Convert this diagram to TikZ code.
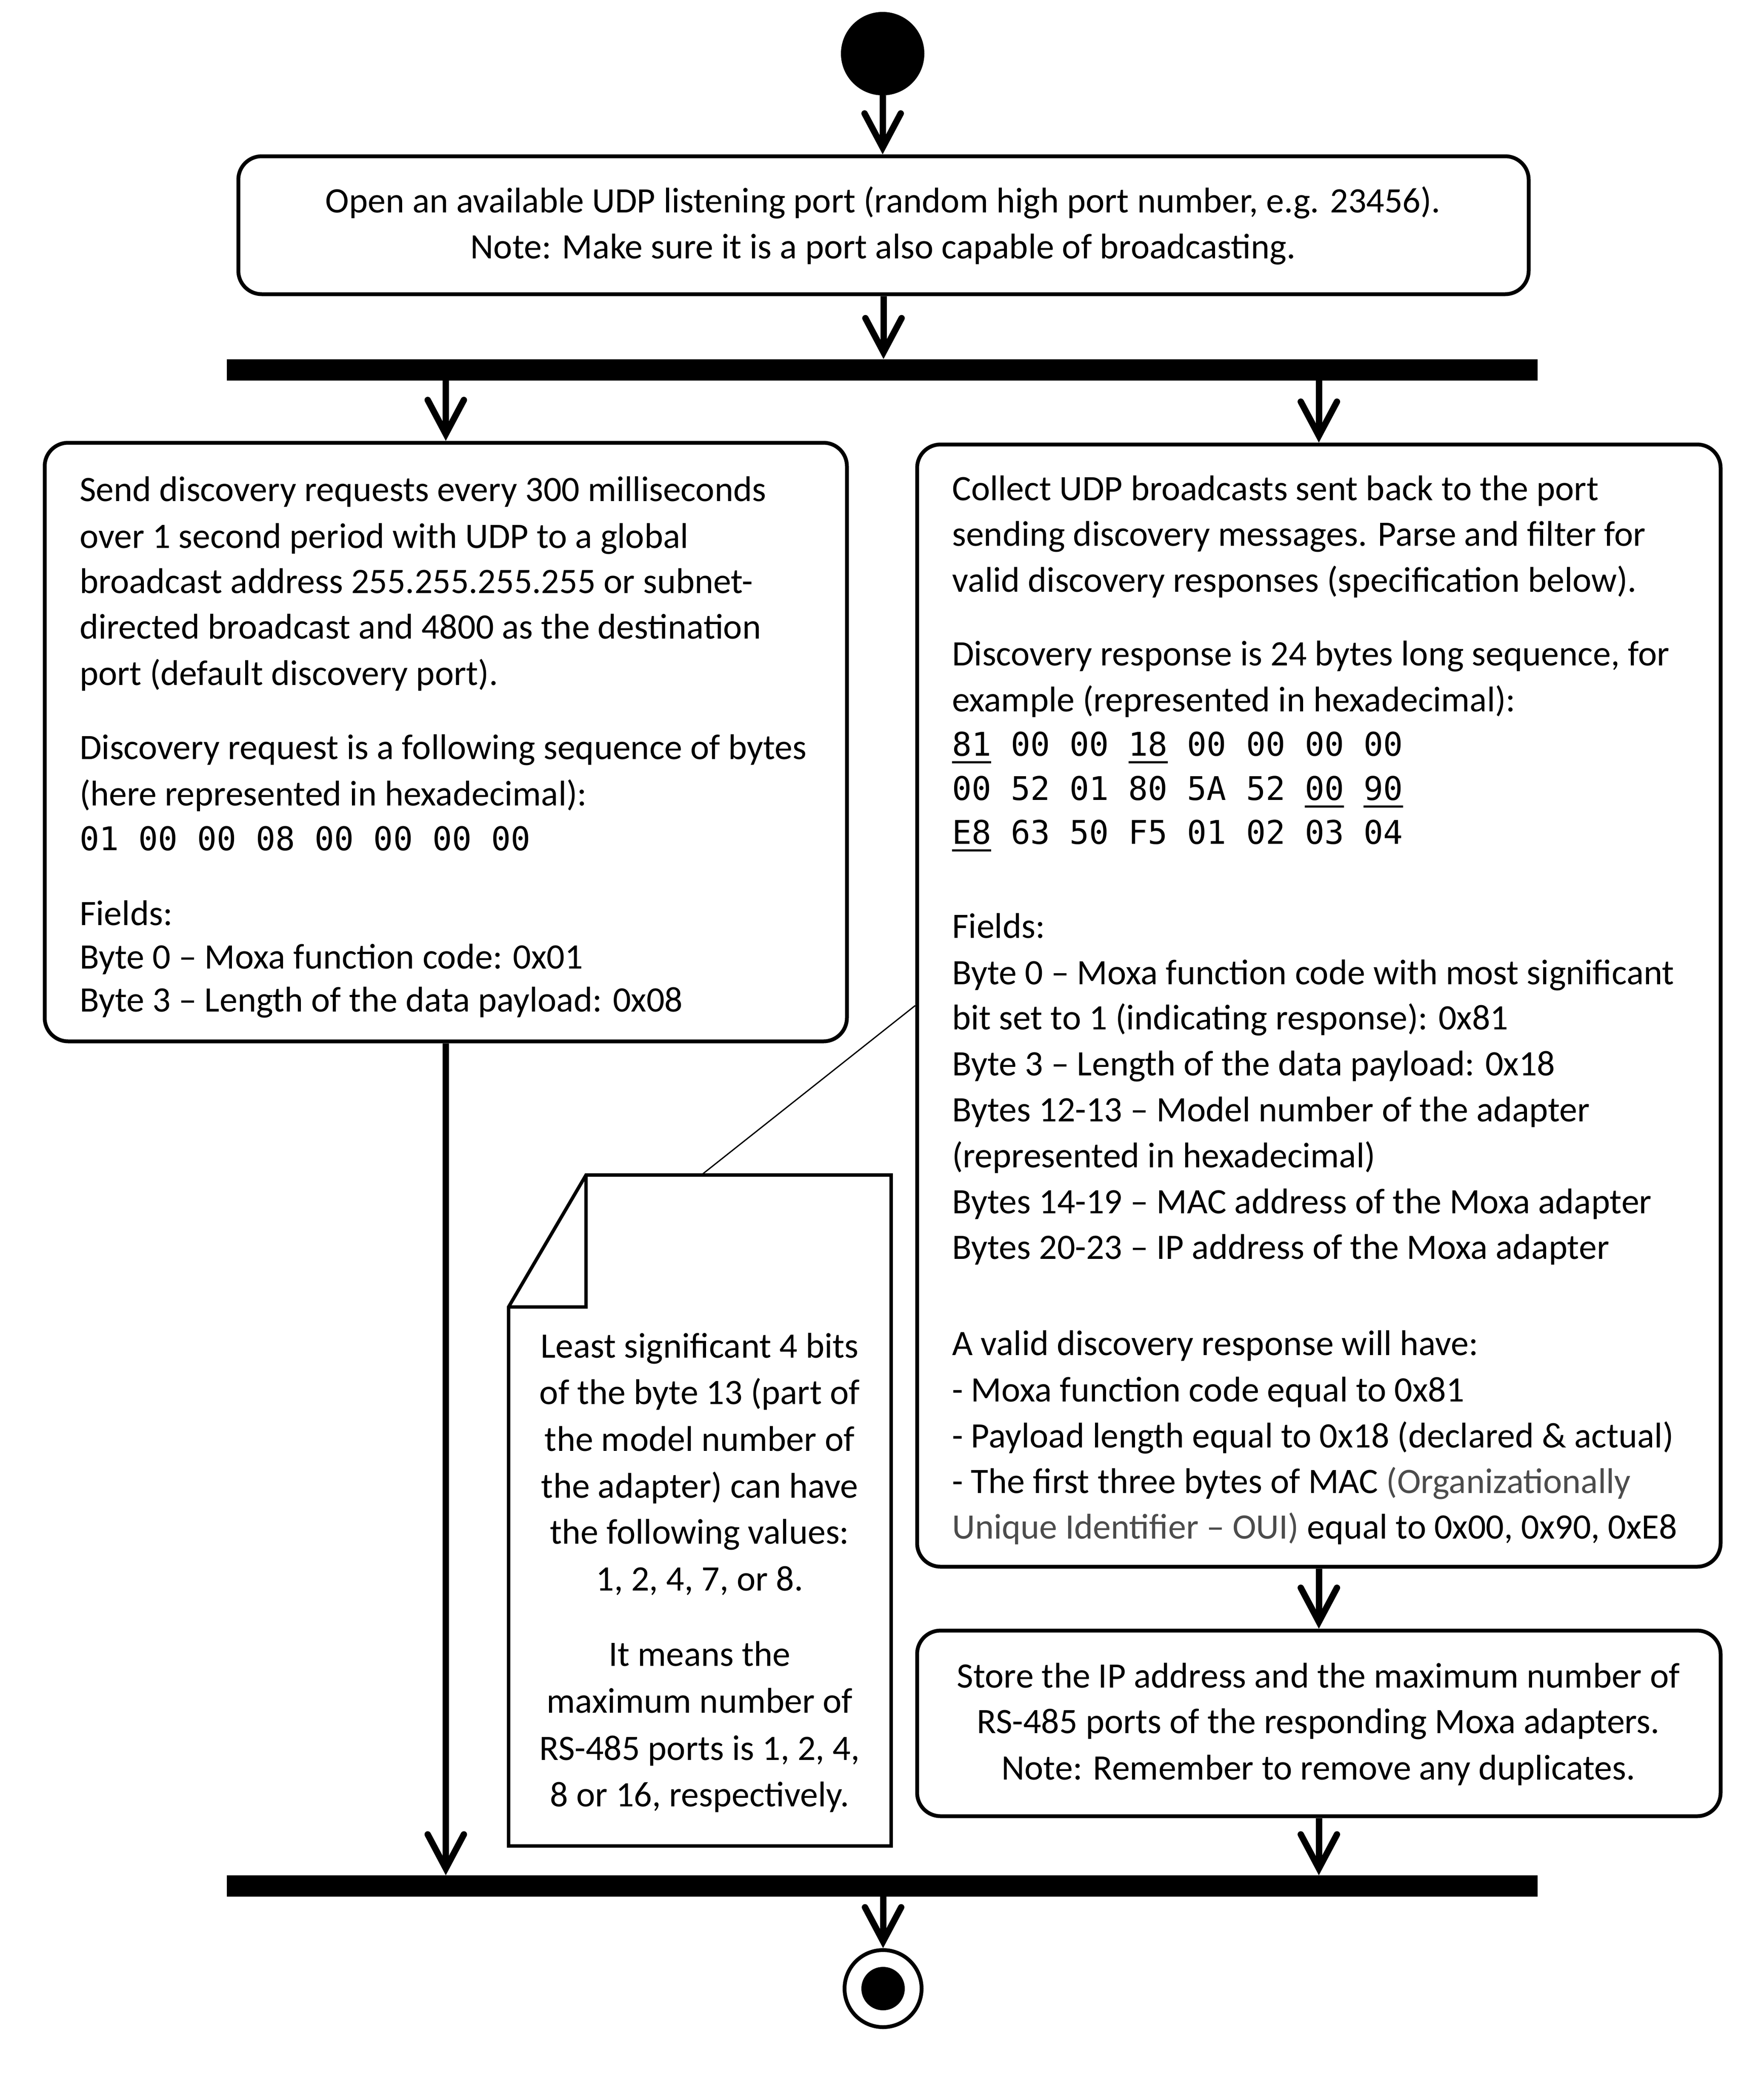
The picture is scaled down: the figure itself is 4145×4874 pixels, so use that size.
\documentclass[tikz,border=0pt]{standalone}
\usepackage{fontspec}
\setmainfont{Carlito}
\newfontfamily\monof{DejaVu Sans Mono}
\usetikzlibrary{arrows.meta}
\definecolor{ouigray}{gray}{0.3}
\newcommand\uln[1]{\setbox0\hbox{#1}\rlap{\rule[-18pt]{\wd0}{5.5pt}}\box0\relax}
\newcommand\ltline[4]{\node[lt] (#1) at (#2,#3) {#4};}
\newcommand\ctline[4]{\node[ct] (#1) at (#2,#3) {#4};}
\newcommand\mtline[4]{\node[mt] (#1) at (#2,#3) {#4};}
\begin{document}
\begin{tikzpicture}[x=1pt,y=-1pt,
  box/.style={draw, line width=9pt, rounded corners=55pt, inner sep=0pt, rectangle},
  bar/.style={fill, draw=none, inner sep=0pt, minimum width=3080pt, minimum height=50pt},
  flow/.style={line width=15pt, -{Straight Barb[length=80pt,width=85pt,line cap=round,line join=miter]}},
  txt/.style={inner sep=0pt, font=\fontsize{84}{109}\selectfont},
  lt/.style={txt, anchor=base west},
  ct/.style={txt, anchor=base},
  mt/.style={inner sep=0pt, anchor=base west, font=\fontsize{76.5}{104}\monof},
  notebox/.style={draw, line width=8pt, line join=miter}
]
\fill[white] (0,0) rectangle (4145,4874);
\useasboundingbox (0,0) rectangle (4145,4874);

% initial node
\node[circle, fill, inner sep=0pt, minimum size=196pt] (start) at (2074,126) {};

% boxes
\node[box, minimum width=3032pt, minimum height=324pt] (b1) at (2076,529) {};
\node[bar] (fork) at (2073,868.5) {};
\node[box, minimum width=1885pt, minimum height=1406pt] (bl) at (1047.5,1743) {};
\node[box, minimum width=1888pt, minimum height=2636pt] (br) at (3099,2362) {};
\node[box, minimum width=1888pt, minimum height=436pt] (b2) at (3099,4048) {};
\node[bar] (join) at (2073,4430) {};
\node[circle, draw, line width=9pt, inner sep=0pt, minimum size=181pt] (end) at (2075,4671) {};
\fill (end.center) circle (51pt);

% connectors
\draw[flow] (start) -- (start |- b1.north);
\draw[flow] (b1) -- (b1 |- fork.north);
\draw[flow] (bl |- fork.south) -- (bl.north);
\draw[flow] (br |- fork.south) -- (br.north);
\draw[flow] (bl.south) -- (bl |- join.north);
\draw[flow] (br.south) -- (b2.north);
\draw[flow] (b2.south) -- (b2 |- join.north);
\draw[flow] (end |- join.south) -- (end.north);

% note
\coordinate (nA) at (1195,3070);
\coordinate (nB) at (1377,2760);
\coordinate (nC) at (2094,2760);
\coordinate (nD) at (2094,4336);
\coordinate (nE) at (1195,4336);
\coordinate (nF) at (1377,3070);
\coordinate (nanchor) at (1648,2760);
\draw[notebox] (nA) -- (nB) -- (nC) -- (nD) -- (nE) -- cycle;
\draw[notebox] (nB) -- (nF) -- (nA);
\draw[line width=3pt] (nanchor) -- (br.west);

% box 1 text
\ctline{t1a}{2075}{499}{Open an available UDP listening port (random high port number, e.g. 23456).}
\ctline{t1b}{2075}{607}{Note: Make sure it is a port also capable of broadcasting.}

% left box text
\ltline{l1}{187}{1177}{Send discovery requests every 300 milliseconds}
\ltline{l2}{187}{1287}{over 1 second period with UDP to a global}
\ltline{l3}{187}{1393}{broadcast address 255.255.255.255 or subnet-}
\ltline{l4}{187}{1500}{directed broadcast and 4800 as the destination}
\ltline{l5}{187}{1609}{port (default discovery port).}
\ltline{l6}{187}{1783}{Discovery request is a following sequence of bytes}
\ltline{l7}{187}{1892}{(here represented in hexadecimal):}
\mtline{l8}{187}{1997}{01 00 00 08 00 00 00 00}
\ltline{l9}{187}{2173}{Fields:}
\ltline{l10}{187}{2275}{Byte 0 -- Moxa function code: 0x01}
\ltline{l11}{187}{2376}{Byte 3 -- Length of the data payload: 0x08}

% right box text
\ltline{r1}{2237}{1175}{Collect UDP broadcasts sent back to the port}
\ltline{r2}{2237}{1282}{sending discovery messages. Parse and filter for}
\ltline{r3}{2237}{1390}{valid discovery responses (specification below).}
\ltline{r4}{2237}{1563}{Discovery response is 24 bytes long sequence, for}
\ltline{r5}{2237}{1671}{example (represented in hexadecimal):}
\mtline{r6}{2237}{1775}{\uln{81} 00 00 \uln{18} 00 00 00 00}
\mtline{r7}{2237}{1879}{00 52 01 80 5A 52 \uln{00} \uln{90}}
\mtline{r8}{2237}{1982}{\uln{E8} 63 50 F5 01 02 03 04}
\ltline{r9}{2237}{2203}{Fields:}
\ltline{r10}{2237}{2312}{Byte 0 -- Moxa function code with most significant}
\ltline{r11}{2237}{2418}{bit set to 1 (indicating response): 0x81}
\ltline{r12}{2237}{2526}{Byte 3 -- Length of the data payload: 0x18}
\ltline{r13}{2237}{2634}{Bytes 12-13 -- Model number of the adapter}
\ltline{r14}{2237}{2742}{(represented in hexadecimal)}
\ltline{r15}{2237}{2850}{Bytes 14-19 -- MAC address of the Moxa adapter}
\ltline{r16}{2237}{2957}{Bytes 20-23 -- IP address of the Moxa adapter}
\ltline{r17}{2237}{3183}{A valid discovery response will have:}
\ltline{r18}{2237}{3292}{- Moxa function code equal to 0x81}
\ltline{r19}{2237}{3400}{- Payload length equal to 0x18 (declared \& actual)}
\ltline{r20}{2237}{3507}{- The first three bytes of MAC {\color{ouigray}(Organizationally}}
\ltline{r21}{2237}{3614}{{\color{ouigray}Unique Identifier -- OUI)} equal to 0x00, 0x90, 0xE8}

% box 2 text
\ctline{s1}{3098}{3964}{Store the IP address and the maximum number of}
\ctline{s2}{3098}{4071}{RS-485 ports of the responding Moxa adapters.}
\ctline{s3}{3098}{4180}{Note: Remember to remove any duplicates.}

% note text
\ctline{n1}{1644}{3189}{Least significant 4 bits}
\ctline{n2}{1644}{3298}{of the byte 13 (part of}
\ctline{n3}{1644}{3408}{the model number of}
\ctline{n4}{1644}{3518}{the adapter) can have}
\ctline{n5}{1644}{3626}{the following values:}
\ctline{n6}{1644}{3736}{1, 2, 4, 7, or 8.}
\ctline{n7}{1644}{3913}{It means the}
\ctline{n8}{1644}{4023}{maximum number of}
\ctline{n9}{1644}{4134}{RS-485 ports is 1, 2, 4,}
\ctline{n10}{1644}{4243}{8 or 16, respectively.}
\end{tikzpicture}
\end{document}
